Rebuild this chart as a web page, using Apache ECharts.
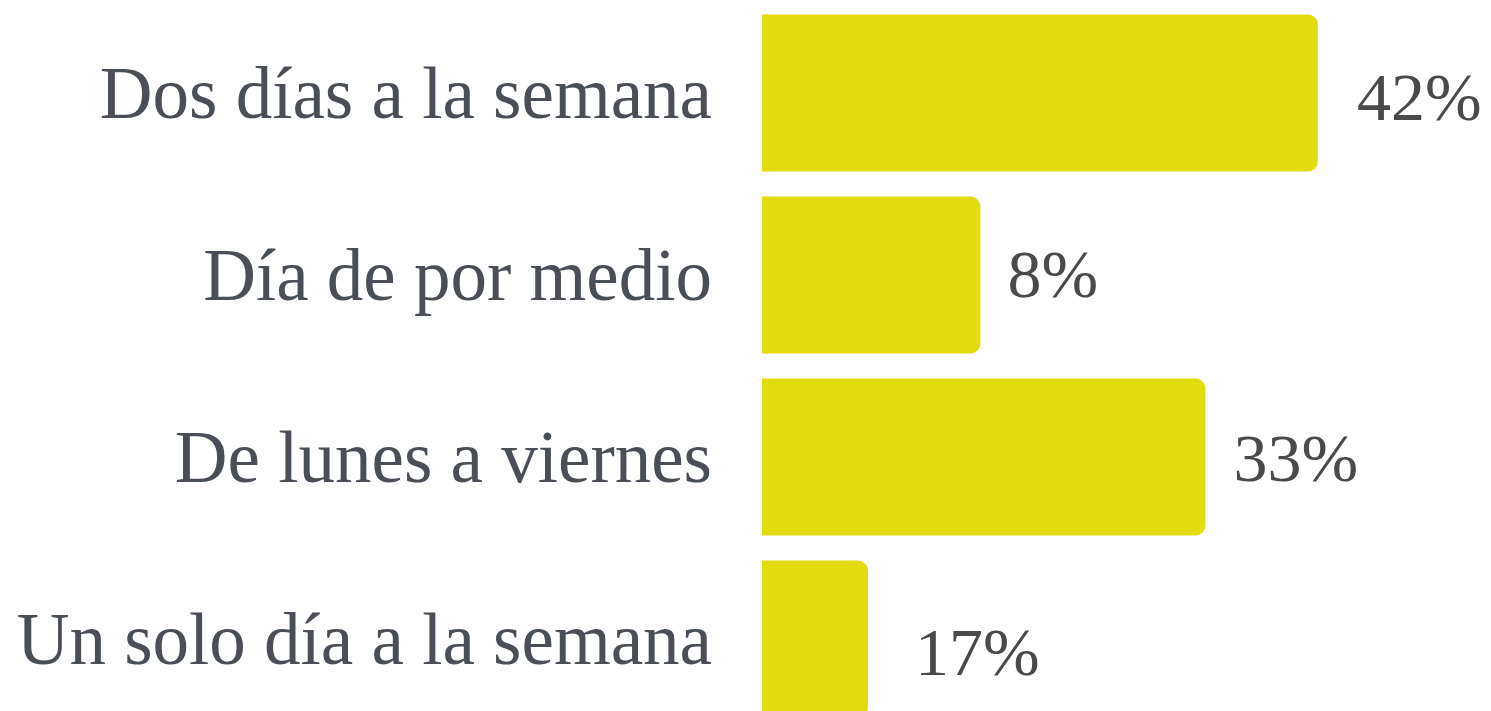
<!DOCTYPE html>
<html>
<head>
<meta charset="utf-8">
<script src="https://cdn.jsdelivr.net/npm/echarts@6/dist/echarts.min.js"></script>
<style>html,body{margin:0;padding:0;background:#fff;}#c{width:1491px;height:711px;}</style>
</head>
<body>
<div id="c"></div>
<script>
const categories = ["Dos días a la semana", "Día de por medio", "De lunes a viernes", "Un solo día a la semana"];
const barValues = [42, 16.5, 33.5, 8];
const valueLabels = ["42%", "8%", "33%", "17%"];

const chart = echarts.init(document.getElementById('c'), null, {renderer: 'canvas'});
const labelOffsets = [[11, 9], [-1, 4], [0, 6], [19, 18]];
const option = {
  animation: false,
  backgroundColor: '#ffffff',
  grid: {left: 762, top: 2, width: 728, height: 728, outerBoundsMode: 'none', containLabel: false},
  xAxis: {type: 'value', min: 0, max: 55, show: false},
  yAxis: {
    type: 'category', data: categories, inverse: true,
    axisLine: {show: false}, axisTick: {show: false}, splitLine: {show: false},
    axisLabel: {
      margin: 50,
      formatter: v => '{c|' + v + '}',
      rich: {c: {color: '#4a4f57', fontSize: 73, fontFamily: 'Liberation Serif, serif', padding: [12, 0, 0, 0]}}
    }
  },
  series: [{
    type: 'bar',
    barWidth: 157,
    data: barValues.map((v, i) => ({
      value: v,
      label: {offset: labelOffsets[i]}
    })),
    itemStyle: {color: '#e3dc0c', borderRadius: [0, 10, 10, 0]},
    label: {
      show: true, position: 'right', distance: 28,
      color: '#4a4a4a', fontSize: 68, fontFamily: 'Liberation Serif, serif',
      formatter: p => valueLabels[p.dataIndex]
    }
  }]
};
chart.setOption(option);
</script>
</body>
</html>
